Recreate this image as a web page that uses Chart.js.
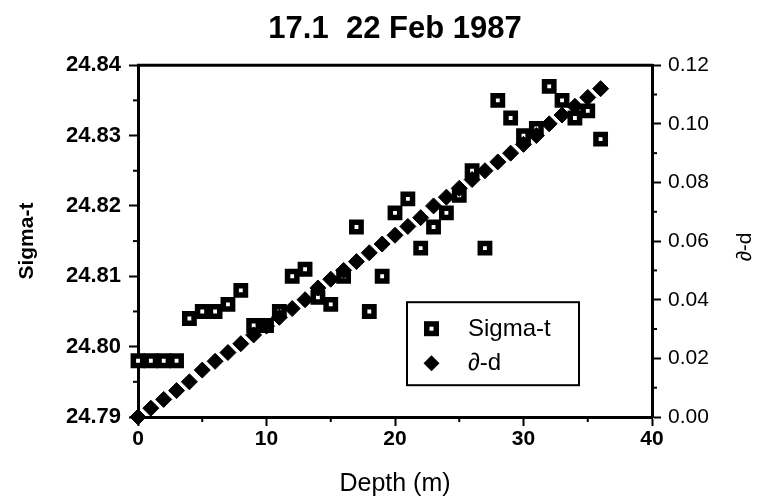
<!DOCTYPE html>
<html>
<head>
<meta charset="utf-8">
<script src="https://cdn.jsdelivr.net/npm/chart.js@4"></script>
<style>
  html, body { margin: 0; padding: 0; background: #fff; }
  #wrap { width: 759px; height: 499px; }
</style>
</head>
<body>
<div id="wrap"><canvas id="chart"></canvas></div>
<script>
// ── Data ────────────────────────────────────────────────────────────────────
const depths = [0, 1, 2, 3, 4, 5, 6, 7, 8, 9, 10, 11, 12, 13, 14, 15, 16, 17, 18,
                19, 20, 21, 22, 23, 24, 25, 26, 27, 28, 29, 30, 31, 32, 33, 34, 35, 36];

const sigmaT = [24.798, 24.798, 24.798, 24.798, 24.804, 24.805, 24.805, 24.806, 24.808,
                24.803, 24.803, 24.805, 24.810, 24.811, 24.807, 24.806, 24.810, 24.817,
                24.805, 24.810, 24.819, 24.821, 24.814, 24.817, 24.819, 24.8215, 24.825,
                24.814, 24.835, 24.8325, 24.830, 24.831, 24.837, 24.835, 24.8325, 24.8335,
                24.8295];

const deltaD = [0.000, 0.003, 0.006, 0.009, 0.012, 0.016, 0.019, 0.022, 0.025, 0.028,
                0.031, 0.034, 0.037, 0.040, 0.044, 0.047, 0.050, 0.053, 0.056, 0.059,
                0.062, 0.065, 0.068, 0.072, 0.075, 0.078, 0.081, 0.084, 0.087, 0.090,
                0.093, 0.096, 0.100, 0.103, 0.106, 0.109, 0.112];

const FONT = "'Liberation Sans', Arial, Helvetica, sans-serif";

// ── Frame, minor ticks, legend, right-hand title ──────────────────────────────
const decorPlugin = {
  id: 'decor',
  afterDraw(chart) {
    const { ctx, chartArea: a, scales } = chart;
    ctx.save();
    ctx.strokeStyle = '#000';
    ctx.fillStyle = '#000';

    // top frame line
    ctx.lineWidth = 3;
    ctx.beginPath();
    ctx.moveTo(a.left - 1, a.top);
    ctx.lineTo(a.right + 1, a.top);
    ctx.stroke();

    // minor ticks (shorter than the major ones)
    ctx.lineWidth = 2;
    const minor = (scale, vals, draw) => vals.forEach(v => draw(scale.getPixelForValue(v)));
    minor(scales.x, [5, 15, 25, 35], px => {
      ctx.beginPath(); ctx.moveTo(px, a.bottom); ctx.lineTo(px, a.bottom + 5); ctx.stroke();
    });
    minor(scales.y, [24.795, 24.805, 24.815, 24.825, 24.835], py => {
      ctx.beginPath(); ctx.moveTo(a.left, py); ctx.lineTo(a.left - 5, py); ctx.stroke();
    });
    minor(scales.y2, [0.01, 0.03, 0.05, 0.07, 0.09, 0.11], py => {
      ctx.beginPath(); ctx.moveTo(a.right, py); ctx.lineTo(a.right + 5, py); ctx.stroke();
    });

    // legend box
    const bx = a.left + 269, by = a.top + 237, bw = 172, bh = 83;
    ctx.fillStyle = '#fff';
    ctx.fillRect(bx, by, bw, bh);
    ctx.lineWidth = 2;
    ctx.strokeRect(bx, by, bw, bh);

    // square marker
    ctx.fillStyle = '#000';
    ctx.fillRect(bx + 17, by + 19, 15, 15);
    ctx.fillStyle = '#fff';
    ctx.fillRect(bx + 22.5, by + 24.5, 4, 4);
    // diamond marker
    ctx.fillStyle = '#000';
    ctx.beginPath();
    const dx = bx + 24.5, dy = by + 61;
    ctx.moveTo(dx, dy - 8); ctx.lineTo(dx + 8, dy); ctx.lineTo(dx, dy + 8); ctx.lineTo(dx - 8, dy);
    ctx.closePath(); ctx.fill();

    ctx.font = '24px ' + FONT;
    ctx.textBaseline = 'middle';
    ctx.textAlign = 'left';
    ctx.fillText(chart.data.datasets[0].label, bx + 61, by + 27);
    ctx.fillText(chart.data.datasets[1].label, bx + 61, by + 61);

    // right axis title, rotated like the left one
    ctx.font = '21px ' + FONT;
    ctx.textAlign = 'center';
    ctx.translate(745, (a.top + a.bottom) / 2 + 6);
    ctx.rotate(-Math.PI / 2);
    ctx.fillText('∂-d', 0, 0);
    ctx.restore();
  },
};

const isMult = (v, step) => Math.abs(v / step - Math.round(v / step)) < 1e-6;

new Chart(document.getElementById('chart'), {
  type: 'scatter',
  data: {
    datasets: [
      {
        label: 'Sigma-t',
        data: depths.map((d, i) => ({ x: d, y: sigmaT[i] })),
        yAxisID: 'y',
        clip: false,
        pointStyle: 'rect',
        pointRadius: 6.6,
        pointBorderWidth: 5.5,
        pointBackgroundColor: '#fff',
        pointBorderColor: '#000',
        order: 2,
      },
      {
        label: '∂-d',
        data: depths.map((d, i) => ({ x: d, y: deltaD[i] })),
        yAxisID: 'y2',
        clip: false,
        pointStyle: 'rectRot',
        pointRadius: 8,
        pointBorderWidth: 1,
        pointBackgroundColor: '#000',
        pointBorderColor: '#000',
        order: 1,
      },
    ],
  },
  options: {
    responsive: true,
    maintainAspectRatio: false,
    animation: false,
    layout: { padding: 0 },
    plugins: {
      legend: { display: false },
      tooltip: { enabled: false },
      title: {
        display: true,
        text: '17.1  22 Feb 1987',
        fullSize: false,
        color: '#000',
        font: { family: FONT, size: 31, weight: 'bold' },
        padding: { top: 11, bottom: 17 },
      },
    },
    scales: {
      x: {
        type: 'linear',
        min: 0, max: 40,
        afterFit: s => { s.height = 82; },
        border: { display: true, color: '#000', width: 3 },
        grid: { drawOnChartArea: false, drawTicks: true, tickLength: 9, tickWidth: 2, tickColor: '#000' },
        ticks: {
          stepSize: 10,
          color: '#000',
          padding: 1,
          maxRotation: 0,
          font: { family: FONT, size: 21, weight: 'bold' },
        },
        title: {
          display: true,
          text: 'Depth (m)',
          color: '#000',
          font: { family: FONT, size: 25 },
          padding: { top: 0, bottom: 0 },
        },
      },
      y: {
        position: 'left',
        min: 24.79, max: 24.84,
        afterFit: s => { s.width = 138; },
        border: { display: true, color: '#000', width: 3 },
        grid: { drawOnChartArea: false, drawTicks: true, tickLength: 9, tickWidth: 2, tickColor: '#000' },
        ticks: {
          stepSize: 0.01,
          color: '#000',
          padding: 8,
          font: { family: FONT, size: 22, weight: 'bold' },
          callback: v => v.toFixed(2),
        },
        title: {
          display: true,
          text: 'Sigma-t',
          color: '#000',
          font: { family: FONT, size: 21, weight: 'bold' },
          padding: { top: 15, bottom: 0 },
        },
      },
      y2: {
        position: 'right',
        min: 0, max: 0.12,
        afterFit: s => { s.width = 107; },
        border: { display: true, color: '#000', width: 3 },
        grid: { drawOnChartArea: false, drawTicks: true, tickLength: 9, tickWidth: 2, tickColor: '#000' },
        ticks: {
          stepSize: 0.02,
          color: '#000',
          padding: 7,
          font: { family: FONT, size: 21 },
          callback: v => isMult(v, 0.02) ? v.toFixed(2) : '',
        },
      },
    },
  },
  plugins: [decorPlugin],
});
</script>
</body>
</html>
